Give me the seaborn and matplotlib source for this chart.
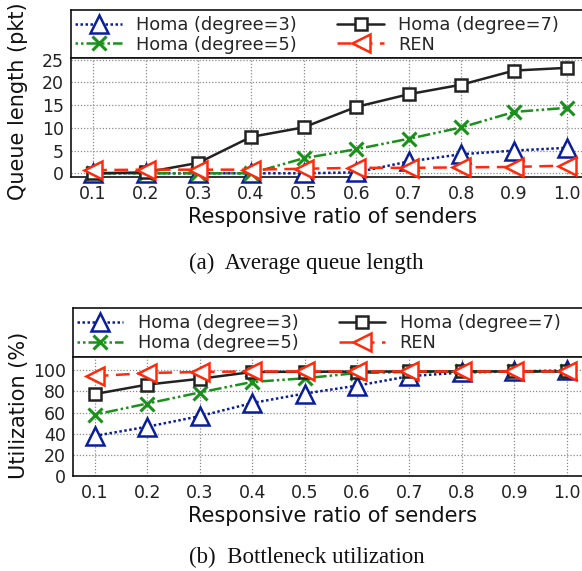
import matplotlib
matplotlib.use("Agg")
import matplotlib.pyplot as plt
import seaborn as sns
import pandas as pd
from matplotlib.lines import Line2D
from matplotlib.ticker import MultipleLocator

# ---------------- data ----------------
ratios = [0.1, 0.2, 0.3, 0.4, 0.5, 0.6, 0.7, 0.8, 0.9, 1.0]
series_names = ["Homa (degree=3)", "Homa (degree=5)", "Homa (degree=7)", "REN"]

queue_homa3 = [0.0, 0.0, 0.0, 0.0, 0.0, 0.2, 2.6, 4.2, 5.0, 5.6]
queue_homa5 = [0.0, 0.0, 0.0, 0.0, 3.3, 5.3, 7.6, 10.1, 13.5, 14.4]
queue_homa7 = [0.0, 0.2, 2.3, 8.0, 10.1, 14.6, 17.4, 19.5, 22.6, 23.2]
queue_ren = [0.7, 0.8, 0.8, 0.8, 1.0, 1.2, 1.2, 1.3, 1.4, 1.7]

util_homa3 = [37.8, 46.5, 56.5, 69.0, 78.0, 85.5, 94.5, 98.0, 99.0, 100.0]
util_homa5 = [58.0, 68.5, 79.0, 89.0, 92.5, 97.5, 98.5, 99.0, 99.0, 99.0]
util_homa7 = [77.5, 86.5, 92.0, 98.5, 98.7, 98.8, 99.0, 99.0, 99.0, 99.0]
util_ren = [94.5, 97.5, 98.5, 99.0, 99.0, 99.0, 99.0, 99.0, 99.0, 99.0]

queue_ticks = [0, 5, 10, 15, 20, 25]
util_ticks = [0, 20, 40, 60, 80, 100]
x_ticks = ratios
x_tick_labels = ["0.1", "0.2", "0.3", "0.4", "0.5", "0.6", "0.7", "0.8", "0.9", "1.0"]

# ---------------- styles ----------------
styles = {
    "Homa (degree=3)": dict(color="#0a1e9a", marker="^", linestyle=(0, (1, 1)), markersize=13),
    "Homa (degree=5)": dict(color="#1a911a", marker="x", linestyle=(0, (1, 1.2, 1, 1.2, 5, 1.2)), markersize=10),
    "Homa (degree=7)": dict(color="#222222", marker="s", linestyle="-", markersize=9),
    "REN": dict(color="#ff2a0a", marker="<", linestyle=(0, (5.5, 3)), markersize=13),
}

def make_df(values):
    rows = []
    for name, vals in zip(series_names, values):
        for x, v in zip(ratios, vals):
            rows.append({"ratio": x, "value": v, "series": name})
    return pd.DataFrame(rows)

queue_df = make_df([queue_homa3, queue_homa5, queue_homa7, queue_ren])
util_df = make_df([util_homa3, util_homa5, util_homa7, util_ren])

sns.set_theme(style="white")
plt.rcParams["font.family"] = ["DejaVu Sans"]

W, H = 582, 571
fig = plt.figure(figsize=(W / 100, H / 100), dpi=100)

def frac_x(px):
    return px / W

def frac_y(py):
    return 1 - py / H

def panel(left_px, top_px, sep_px, bottom_px, right_px):
    ax_leg = fig.add_axes([frac_x(left_px), frac_y(sep_px), frac_x(right_px - left_px),
                           (sep_px - top_px) / H])
    ax = fig.add_axes([frac_x(left_px), frac_y(bottom_px), frac_x(right_px - left_px),
                       (bottom_px - sep_px) / H])
    return ax_leg, ax

def draw(ax, ax_leg, df, ylim, yticks, yminor=None):
    for name in series_names:
        st = styles[name]
        sub = df[df["series"] == name]
        mew = 2.2 if st["marker"] == "x" else 1.8
        sns.lineplot(data=sub, x="ratio", y="value", ax=ax, color=st["color"],
                     marker=st["marker"], linestyle=st["linestyle"],
                     markersize=st["markersize"], markerfacecolor="white",
                     markeredgecolor=st["color"], markeredgewidth=mew,
                     linewidth=1.8, errorbar=None, legend=False, zorder=3,
                     clip_on=False)
    ax.set_xlim(0.058, 1.05)
    ax.set_ylim(*ylim)
    ax.set_xticks(x_ticks)
    ax.set_xticklabels(x_tick_labels)
    ax.set_yticks(yticks)
    ax.xaxis.set_minor_locator(MultipleLocator(0.05))
    if yminor:
        ax.yaxis.set_minor_locator(MultipleLocator(yminor))
    ax.tick_params(axis="both", which="major", direction="in", length=4, width=1,
                   labelsize=12.5, pad=5, colors="#222222", labelcolor="#222222")
    ax.tick_params(axis="both", which="minor", direction="in", length=2, width=0.8)
    ax.tick_params(axis="x", which="major", pad=6)
    ax.grid(True, which="major", linestyle=(0, (1, 1.5)), color="#8a8a8a", linewidth=0.9)
    ax.set_xlabel("Responsive ratio of senders", fontsize=15, labelpad=3, color="#111111")
    ax.set_ylabel("")
    for sp in ax.spines.values():
        sp.set_color("#111111")
        sp.set_linewidth(1.2)
    ax.spines["right"].set_visible(False)

    ax_leg.set_xticks([])
    ax_leg.set_yticks([])
    for sp in ax_leg.spines.values():
        sp.set_color("#111111")
        sp.set_linewidth(1.2)
    handles = []
    for name in series_names:
        st = styles[name]
        mew = 2.2 if st["marker"] == "x" else 1.8
        handles.append(Line2D([0], [0], color=st["color"], marker=st["marker"],
                              linestyle=st["linestyle"], markersize=st["markersize"],
                              markerfacecolor="white", markeredgecolor=st["color"],
                              markeredgewidth=mew, linewidth=1.8))
    ax_leg.legend(handles, series_names, ncol=2, loc="upper left",
                  bbox_to_anchor=(-0.012, 1.09), frameon=False, fontsize=12.8,
                  handlelength=2.6, handletextpad=0.8, columnspacing=2.3,
                  labelspacing=0.1, borderaxespad=0.2)

# top panel
leg1, ax1 = panel(71, 9.5, 58.3, 176.7, 593)
draw(ax1, leg1, queue_df, (-0.75, 25.3), queue_ticks)
fig.text(frac_x(18), frac_y(101), "Queue length (pkt)", rotation=90, fontsize=15,
         ha="center", va="center", color="#111111")
fig.text(frac_x(306), frac_y(263), "(a)  Average queue length", fontsize=16.5,
         family="Liberation Serif", ha="center", va="center", color="#111111")

# bottom panel
leg2, ax2 = panel(72.7, 308, 356.7, 475.7, 593)
draw(ax2, leg2, util_df, (0, 113), util_ticks, yminor=10)
fig.text(frac_x(19), frac_y(405), "Utilization (%)", rotation=90, fontsize=15,
         ha="center", va="center", color="#111111")
fig.text(frac_x(307), frac_y(557), "(b)  Bottleneck utilization", fontsize=16.5,
         family="Liberation Serif", ha="center", va="center", color="#111111")

fig.savefig("out.png", dpi=100)
